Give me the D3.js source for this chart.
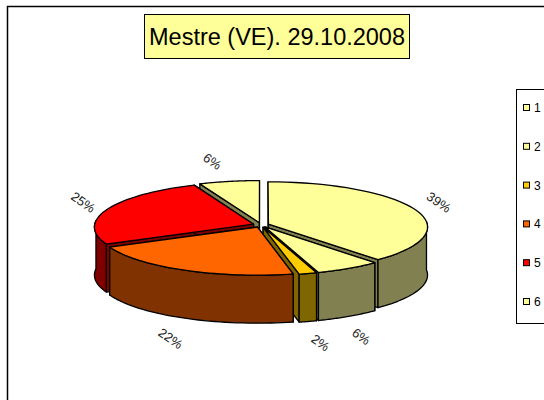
<!DOCTYPE html>
<html><head><meta charset="utf-8">
<script src="https://cdnjs.cloudflare.com/ajax/libs/d3/7.8.5/d3.min.js"></script>
<style>html,body{margin:0;padding:0;background:#fff;overflow:hidden}svg{display:block}text{font-family:"Liberation Sans",Arial,sans-serif}</style>
</head><body><div id="c"></div>
<script>
const titleText = "Mestre (VE). 29.10.2008";
const categories = ["1","2","3","4","5","6"];
const seriesValues = [38.6,6.3,1.7,21.3,25.6,6.5];
const sliceLabels = ["39%","6%","2%","22%","25%","6%"];
const topColors = ["#FFFF99","#FFFF99","#FFCC00","#FF6600","#FF0000","#FFFF99"];
const sideColors = ["#808050","#808050","#806600","#803300","#800000","#808050"];
const drawOrder = [5,4,0,1,2,3];

const W=544,H=400;
const svg=d3.select("#c").append("svg").attr("width",W).attr("height",H);
svg.append("rect").attr("x",7.5).attr("y",6.5).attr("width",W+20).attr("height",H+20).attr("fill","#fff").attr("stroke","#000").attr("stroke-width",1.5);

// title
svg.append("rect").attr("x",144.5).attr("y",14.5).attr("width",265).attr("height",44).attr("fill","#FFFF99").attr("stroke","#000");
svg.append("text").attr("x",277).attr("y",45).attr("text-anchor","middle").attr("font-size",23.5).attr("fill","#000").text(titleText);

// pie geometry
const cx=261,cy=225,R=159,Ry=45,k=0.06,depth=48,explode=0.05;
const arcs=d3.pie().sort(null).startAngle(0).endAngle(2*Math.PI)(seriesValues);
function project(gx,gy,dz=0){const s=1/(1+k*gy);return [cx+gx*R*s,cy-gy*Ry*s+dz];}
const line=d3.line();
const g=svg.append("g").attr("stroke","#000").attr("stroke-width",1.3).attr("stroke-linejoin","round");
drawOrder.forEach(i=>{
  const a=arcs[i],mid=(a.startAngle+a.endAngle)/2;
  const ox=explode*Math.sin(mid),oy=explode*Math.cos(mid);
  const pt=(t,r,dz)=>project(ox+r*Math.sin(t),oy+r*Math.cos(t),dz);
  const steps=d3.range(0,41).map(n=>a.startAngle+(a.endAngle-a.startAngle)*n/40);
  const top=[pt(0,0,0),...steps.map(t=>pt(t,1,0))];
  // radial cut walls
  [a.startAngle,a.endAngle].forEach(t=>{
    g.append("path").attr("fill",sideColors[i])
     .attr("d",line([pt(t,0,0),pt(t,1,0),pt(t,1,depth),pt(t,0,depth)])+"Z");
  });
  // outer wall (front-facing part)
  const front=steps.filter(t=>Math.cos(t)<0.05||Math.abs(Math.sin(t))>0.995);
  if(front.length){
    const upper=front.map(t=>pt(t,1,0)),lower=front.map(t=>pt(t,1,depth)).reverse();
    g.append("path").attr("fill",sideColors[i]).attr("d",line([...upper,...lower])+"Z");
  }
  g.append("path").attr("fill",topColors[i]).attr("d",line(top)+"Z");
});

// labels
arcs.forEach((a,i)=>{
  const mid=(a.startAngle+a.endAngle)/2;
  const s=Math.sin(mid), c=Math.cos(mid);
  const x=cx+Math.sign(s)*(176*Math.abs(s)+13);
  const y=cy-65*c+(c<0?depth+7:0);
  svg.append("text").attr("transform",`translate(${x},${y}) rotate(35)`)
    .attr("text-anchor","middle").attr("dy","0.35em").attr("font-size",13).attr("fill","#222")
    .text(sliceLabels[i]);
});

// legend
svg.append("rect").attr("x",516.5).attr("y",89.5).attr("width",40).attr("height",234).attr("fill","#fff").attr("stroke","#000");
const ly=d3.scalePoint().domain(categories).range([108,302]);
categories.forEach((c,i)=>{
  svg.append("rect").attr("x",523.5).attr("y",ly(c)-3.5).attr("width",6).attr("height",6).attr("fill",topColors[i]).attr("stroke","#000");
  svg.append("text").attr("x",534).attr("y",ly(c)+4).attr("font-size",12).attr("fill","#000").text(c);
});
</script></body></html>
